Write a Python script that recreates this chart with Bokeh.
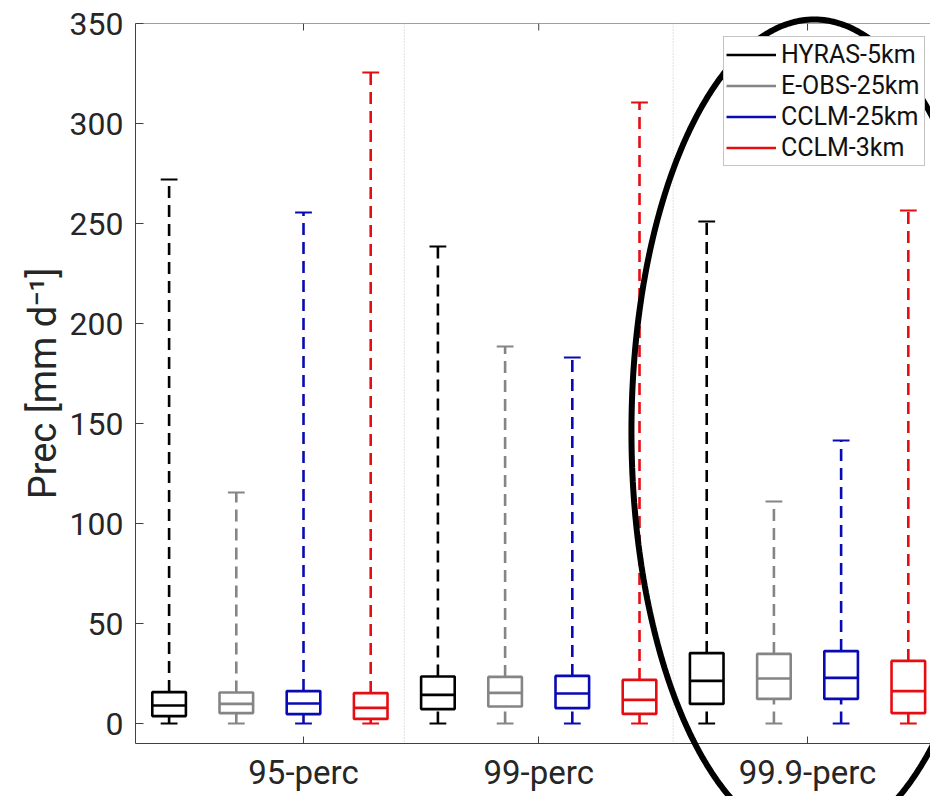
import numpy as np
from bokeh.plotting import figure
from bokeh.models import FixedTicker, Range1d, Span, Legend, LegendItem
from bokeh.embed import file_html
from bokeh.resources import INLINE

# ---------------- data ----------------
groups = ["95-perc", "99-perc", "99.9-perc"]
series = ["HYRAS-5km", "E-OBS-25km", "CCLM-25km", "CCLM-3km"]
colors = ["#000000", "#858585", "#0a0ab4", "#e60d12"]

hyras_low = [0, 0, 0]
hyras_q1 = [3.7, 7.2, 9.8]
hyras_med = [9.0, 14.3, 21.3]
hyras_q3 = [15.7, 23.5, 35.2]
hyras_high = [272, 238.5, 251]

eobs_low = [0, 0, 0]
eobs_q1 = [5.2, 8.5, 12.3]
eobs_med = [9.8, 15.3, 22.5]
eobs_q3 = [15.5, 23.3, 34.8]
eobs_high = [115.5, 188.5, 111]

cclm25_low = [0, 0, 0]
cclm25_q1 = [4.7, 7.7, 12.3]
cclm25_med = [10.0, 15.0, 22.8]
cclm25_q3 = [16.2, 23.8, 36.2]
cclm25_high = [255.5, 183, 141.5]

cclm3_low = [0, 0, 0]
cclm3_q1 = [2.3, 4.8, 5.2]
cclm3_med = [7.8, 11.8, 16.2]
cclm3_q3 = [15.2, 21.8, 31.3]
cclm3_high = [325.5, 310.5, 256.5]

y_ticks = [0, 50, 100, 150, 200, 250, 300, 350]

stats = [
    (hyras_low, hyras_q1, hyras_med, hyras_q3, hyras_high),
    (eobs_low, eobs_q1, eobs_med, eobs_q3, eobs_high),
    (cclm25_low, cclm25_q1, cclm25_med, cclm25_q3, cclm25_high),
    (cclm3_low, cclm3_q1, cclm3_med, cclm3_q3, cclm3_high),
]

# ---------------- figure ----------------
FONT = "Roboto"
TXT = "#262626"
AX = "#404040"
Y_MIN, Y_MAX = -10, 350

p = figure(width=930, height=796, x_range=Range1d(0.5, 12.33),
           y_range=Range1d(Y_MIN, Y_MAX), output_backend="svg",
           toolbar_location=None, min_border_left=135, min_border_right=0,
           min_border_top=23, min_border_bottom=53)
p.outline_line_color = None
p.xgrid.visible = False
p.ygrid.visible = False
p.background_fill_color = "white"
p.border_fill_color = "white"

n_ser = len(series)
group_ticks = [3.0, 6.5, 10.5]

# y axis
ya = p.yaxis[0]
ya.ticker = FixedTicker(ticks=y_ticks)
ya.major_tick_in = 8
ya.major_tick_out = 0
ya.minor_tick_line_color = None
ya.axis_line_color = AX
ya.major_tick_line_color = AX
ya.major_label_text_font = FONT
ya.major_label_text_font_size = "32px"
ya.major_label_text_color = TXT
ya.major_label_standoff = 12
ya.axis_label = "Prec [mm d\u207b\u00b9]"
ya.axis_label_text_font = FONT
ya.axis_label_text_font_size = "38px"
ya.axis_label_text_font_style = "normal"
ya.axis_label_text_color = TXT
ya.axis_label_standoff = 2

# x axis
xa = p.xaxis[0]
xa.ticker = FixedTicker(ticks=group_ticks)
xa.major_label_overrides = {t: g for t, g in zip(group_ticks, groups)}
xa.major_tick_in = 7
xa.major_tick_out = 0
xa.minor_tick_line_color = None
xa.axis_line_color = AX
xa.major_tick_line_color = AX
xa.major_label_text_font = FONT
xa.major_label_text_font_size = "33px"
xa.major_label_text_color = TXT
xa.major_label_standoff = 9

# top frame line and its inward ticks
p.add_layout(Span(location=Y_MAX, dimension="width", line_color=AX,
                  line_width=1))
tick_len = 3.5  # data units (= 7 px)
p.segment(group_ticks, [Y_MAX] * len(group_ticks), group_ticks,
          [Y_MAX - tick_len] * len(group_ticks), line_color=AX, line_width=1)

# group separators
for loc in [n_ser + 0.5, 2 * n_ser + 0.5]:
    p.add_layout(Span(location=loc, dimension="height", line_color="#c4c4c4",
                      line_width=1, line_dash="1 2"))

half_box = 0.25
half_cap = 0.125
legend_items = []
for s, (name, col, (lo, q1, med, q3, hi)) in enumerate(zip(series, colors, stats)):
    x = np.array([g * n_ser + s + 1 for g in range(len(groups))], dtype=float)
    p.segment(x, q3, x, hi, line_color=col, line_width=2.6, line_dash="12 7")
    p.segment(x, lo, x, q1, line_color=col, line_width=2.6, line_dash="12 7")
    p.segment(x - half_cap, hi, x + half_cap, hi, line_color=col, line_width=2)
    p.segment(x - half_cap, lo, x + half_cap, lo, line_color=col, line_width=2)
    p.quad(left=x - half_box, right=x + half_box, bottom=q1, top=q3,
           fill_color=None, line_color=col, line_width=2.6)
    r_med = p.segment(x - half_box, med, x + half_box, med, line_color=col,
                      line_width=2.6)
    legend_items.append(LegendItem(label=name, renderers=[r_med]))

legend = Legend(items=legend_items, location=(588, 577),
                label_text_font=FONT, label_text_font_size="25px",
                label_text_color="#111111",
                glyph_width=50, glyph_height=31, label_height=31,
                label_width=141, spacing=0,
                padding=2, label_standoff=5, margin=0,
                border_line_color="#8a8a8a", border_line_width=1,
                background_fill_color="white", background_fill_alpha=1)
p.add_layout(legend)

# highlight ellipse around the 99.9-perc group (drawn unclipped, on top)
ELL_CX, ELL_CY = 10.6, 146.0
ELL_RX, ELL_RY = 2.72, 206.0
t = np.linspace(0, 2 * np.pi, 361)
ell_x = ELL_CX + ELL_RX * np.cos(t)
ell_y = ELL_CY + ELL_RY * np.sin(t)
p.line(ell_x, ell_y, line_color="black", line_width=6, level="overlay")

open("out.html", "w").write(file_html(p, INLINE))
